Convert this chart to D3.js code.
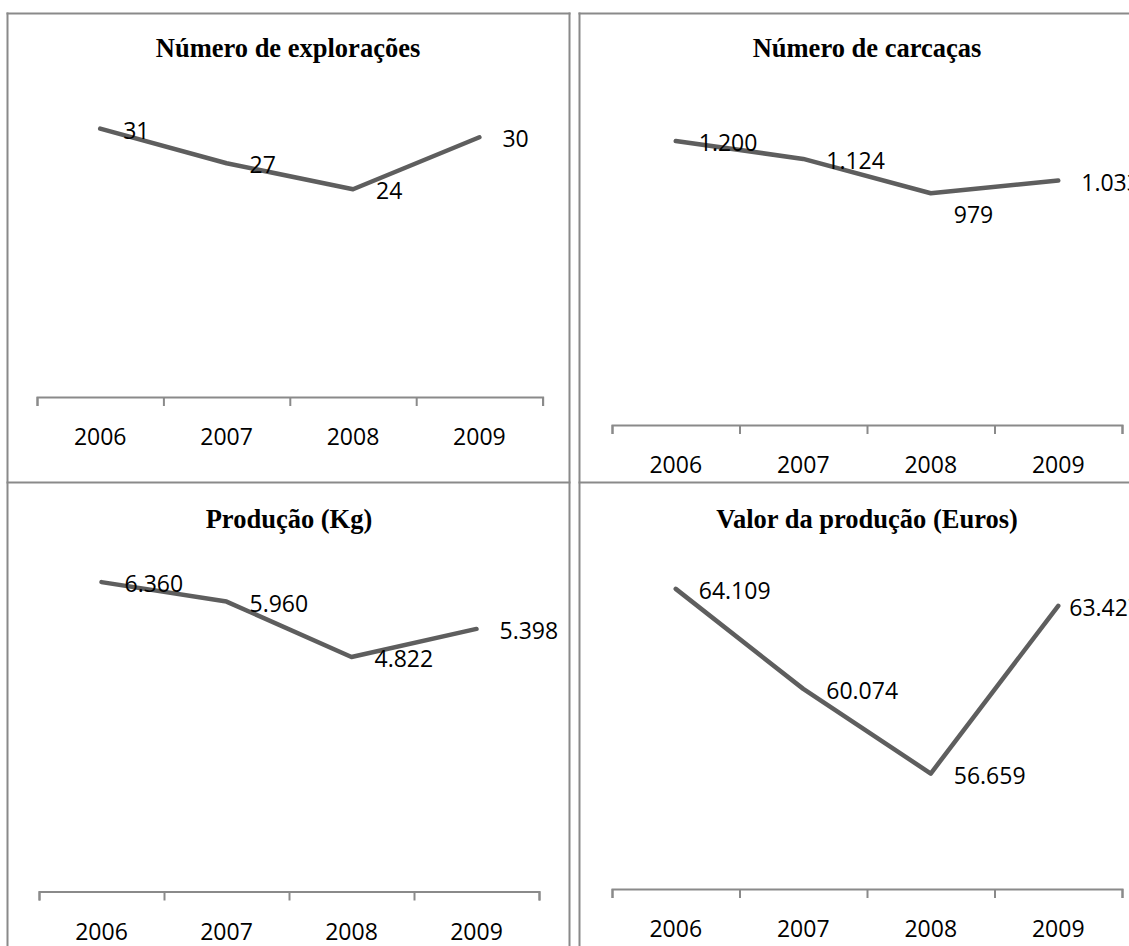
<!DOCTYPE html>
<html>
<head>
<meta charset="utf-8">
<script src="https://cdn.jsdelivr.net/npm/d3@7"></script>
<style>
  body { margin: 0; background: #fff; }
  svg { display: block; }
  .title { font-family: "Liberation Serif", "Times New Roman", serif; font-weight: bold; font-size: 26.5px; fill: #000; }
  .lbl { font-family: "Open Sans", sans-serif; font-size: 23px; fill: #000; }
</style>
</head>
<body>
<svg id="chart" width="1129" height="946"></svg>
<script>
// data
const years = ["2006", "2007", "2008", "2009"];
const exploracoes = [31, 27, 24, 30];
const carcacas = [1200, 1124, 979, 1033];
const producaoKg = [6360, 5960, 4822, 5398];
const valorProducao = [64109, 60074, 56659, 63427];
const titles = ["Número de explorações", "Número de carcaças", "Produção (Kg)", "Valor da produção (Euros)"];

const fmt = d3.formatLocale({decimal: ",", thousands: ".", grouping: [3], currency: ["", ""]}).format(",d");

const svg = d3.select("#chart");
const border = "#8a8a8a";

// panel frames
const frame = svg.append("g")
  .attr("stroke", border)
  .attr("stroke-width", 2)
  .attr("fill", "none");
[7.5, 569.5, 579.5].forEach(x => {
  frame.append("line").attr("x1", x).attr("x2", x).attr("y1", 12.5).attr("y2", 946);
});
[[6.5, 570.5], [578.5, 1129]].forEach(([a, b]) => {
  frame.append("line").attr("x1", a).attr("x2", b).attr("y1", 13.5).attr("y2", 13.5);
  frame.append("line").attr("x1", a).attr("x2", b).attr("y1", 482.5).attr("y2", 482.5);
});

// layout of the four panels (label nudges mimic the original's placement)
const panels = [
  {title: titles[0], values: exploracoes, domain: [0, 35], x0: 37, x1: 542.6, top: 94, axisY: 397, tx: 288, ty: 57},
  {title: titles[1], values: carcacas, domain: [0, 1400], x0: 612, x1: 1122, top: 93.6, axisY: 425, tx: 867, ty: 57, shiftDown: 2},
  {title: titles[2], values: producaoKg, domain: [0, 7000], x0: 39, x1: 539, top: 551, axisY: 891.5, tx: 289, ty: 528},
  {title: titles[3], values: valorProducao, domain: [52000, 66000], x0: 612, x1: 1122, top: 542, axisY: 889, tx: 867, ty: 528, shiftLeft: 3}
];

panels.forEach(p => {
  const g = svg.append("g");

  g.append("text")
    .attr("class", "title")
    .attr("x", p.tx)
    .attr("y", p.ty)
    .attr("text-anchor", "middle")
    .text(p.title);

  const x = d3.scaleBand().domain(years).range([p.x0, p.x1]);
  const y = d3.scaleLinear().domain(p.domain).range([p.axisY, p.top]);
  const cx = d => x(d) + x.bandwidth() / 2;

  // category axis: line + ticks between categories
  const edges = d3.scaleLinear().domain([0, years.length]).range([p.x0, p.x1]);
  const ax = g.append("g")
    .attr("transform", `translate(0,${p.axisY})`)
    .call(d3.axisBottom(edges).tickValues(d3.range(years.length + 1)).tickFormat("").tickSize(9).tickSizeOuter(9));
  ax.selectAll("path, line").attr("stroke", border).attr("stroke-width", 2);

  g.selectAll(".year")
    .data(years)
    .enter()
    .append("text")
    .attr("class", "lbl")
    .attr("x", d => cx(d))
    .attr("y", p.axisY + 40)
    .attr("dy", "0.35em")
    .attr("text-anchor", "middle")
    .text(d => d);

  const pts = years.map((yr, i) => ({yr: yr, v: p.values[i]}));

  g.append("path")
    .datum(pts)
    .attr("fill", "none")
    .attr("stroke", "#5e5e5e")
    .attr("stroke-width", 4.5)
    .attr("stroke-linecap", "round")
    .attr("stroke-linejoin", "round")
    .attr("d", d3.line().x(d => cx(d.yr)).y(d => y(d.v)));

  g.selectAll(".val")
    .data(pts)
    .enter()
    .append("text")
    .attr("class", "lbl")
    .attr("x", (d, i) => cx(d.yr) + (p.shiftLeft === i ? 11 : 23))
    .attr("y", (d, i) => y(d.v) + 2 + (p.shiftDown === i ? 20 : 0))
    .attr("dy", "0.35em")
    .text(d => fmt(d.v));
});
</script>
</body>
</html>
